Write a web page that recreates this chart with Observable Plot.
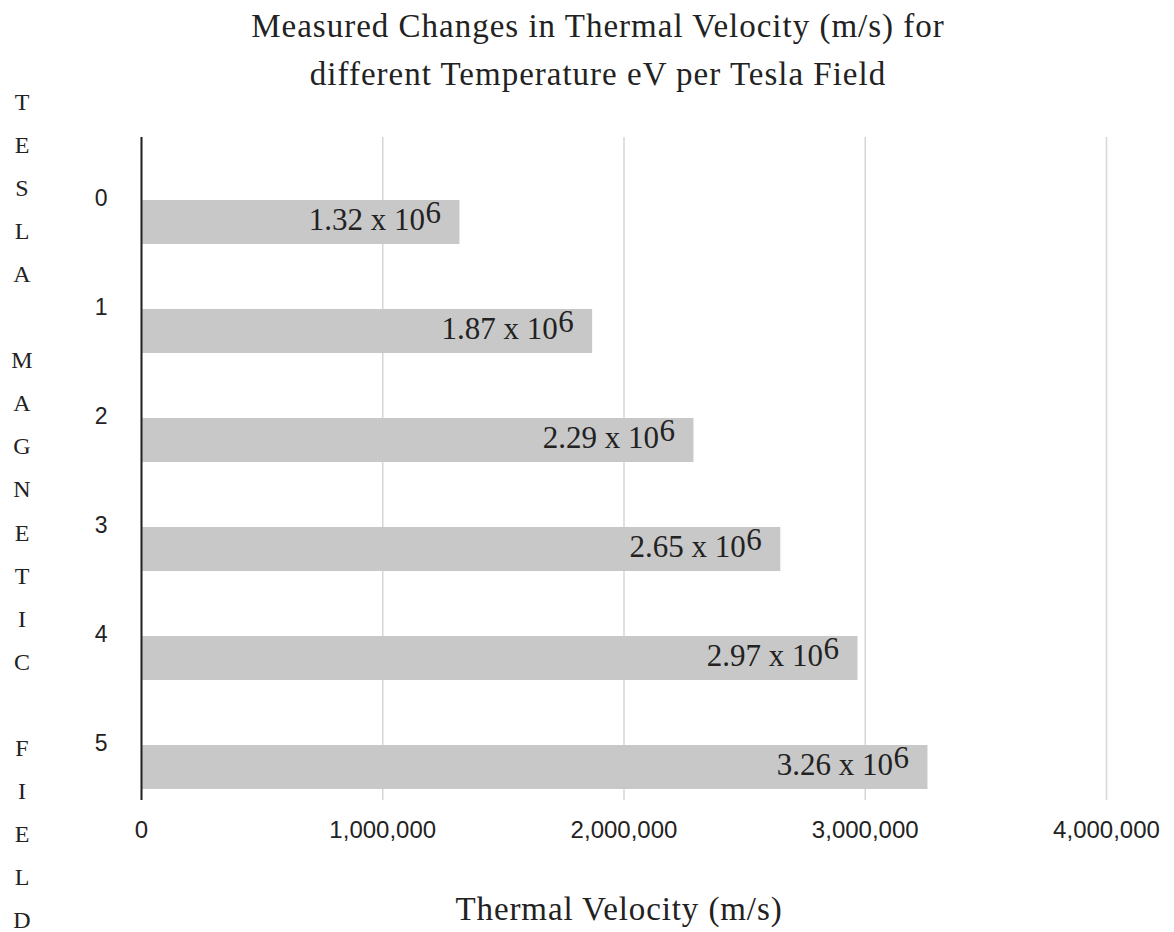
<!DOCTYPE html>
<html><head><meta charset="utf-8">
<script src="https://cdn.jsdelivr.net/npm/d3@7"></script>
<script src="https://cdn.jsdelivr.net/npm/@observablehq/plot@0.6"></script>
<style>body{margin:0;background:#fff} svg{display:block}</style>
</head><body><div id="chart"></div>
<script>
const fields = ["0","1","2","3","4","5"];
const velocities = [1320000, 1870000, 2290000, 2650000, 2970000, 3260000];
const labelMantissas = ["1.32","1.87","2.29","2.65","2.97","3.26"];
const labelExponent = "6";
const xTicks = [0, 1000000, 2000000, 3000000, 4000000];
const titleLines = ["Measured Changes in Thermal Velocity (m/s) for", "different Temperature eV per Tesla Field"];
const xTitle = "Thermal Velocity (m/s)";
const yTitle = "TESLA MAGNETIC FIELD";

const data = fields.map((f, i) => ({field: f, v: velocities[i], m: labelMantissas[i]}));
const serif = "'Liberation Serif', 'Times New Roman', serif";
const sans = "'Liberation Sans', Arial, sans-serif";
const ink = "#222";

const plot = Plot.plot({
  width: 1174, height: 932,
  marginTop: 137, marginBottom: 132, marginLeft: 141, marginRight: 68,
  style: {fontFamily: sans, background: "#fff", color: ink},
  x: {domain: [0, 4000000], label: null},
  y: {domain: fields, paddingInner: 0.6, paddingOuter: 0.1, range: [186, 802], label: null},
  marks: [
    Plot.gridX(xTicks, {stroke: "#d6d6d6", strokeOpacity: 1, strokeWidth: 1.5}),
    Plot.barX(data, {x: "v", y: "field", fill: "#c8c8c8"}),
    Plot.ruleX([0], {stroke: ink, strokeWidth: 2}),
    Plot.axisX({ticks: xTicks, tickFormat: d3.format(","), tickSize: 0, tickPadding: 20, fontSize: 24, label: null, fill: ink}),
    Plot.axisY({tickSize: 0, tickPadding: 34, fontSize: 23, dy: -24, label: null, fill: ink}),
    Plot.text(data, {x: "v", y: "field", text: d => d.m + " x 10", textAnchor: "end", dx: -35, dy: -2, fontFamily: serif, fontSize: 31, fill: ink}),
    Plot.text(data, {x: "v", y: "field", text: () => labelExponent, textAnchor: "end", dx: -19, dy: -9, fontFamily: serif, fontSize: 31, fill: ink})
  ]
});

const svg = d3.select(plot);
titleLines.forEach((t, i) => {
  svg.append("text").attr("x", 598).attr("y", 37 + i * 48)
    .attr("text-anchor", "middle").attr("font-family", serif).attr("font-size", 33)
    .attr("letter-spacing", 1).attr("fill", ink).text(t);
});
svg.append("text").attr("x", 619).attr("y", 920)
  .attr("text-anchor", "middle").attr("font-family", serif).attr("font-size", 33)
  .attr("letter-spacing", 0.9).attr("fill", ink).text(xTitle);
Array.from(yTitle).forEach((c, i) => {
  if (c === " ") return;
  svg.append("text").attr("x", 22).attr("y", 102 + i * 43.05)
    .attr("text-anchor", "middle").attr("dominant-baseline", "central")
    .attr("font-family", serif).attr("font-size", 24).attr("fill", ink).text(c);
});
document.getElementById("chart").appendChild(plot);
</script>
</body></html>
